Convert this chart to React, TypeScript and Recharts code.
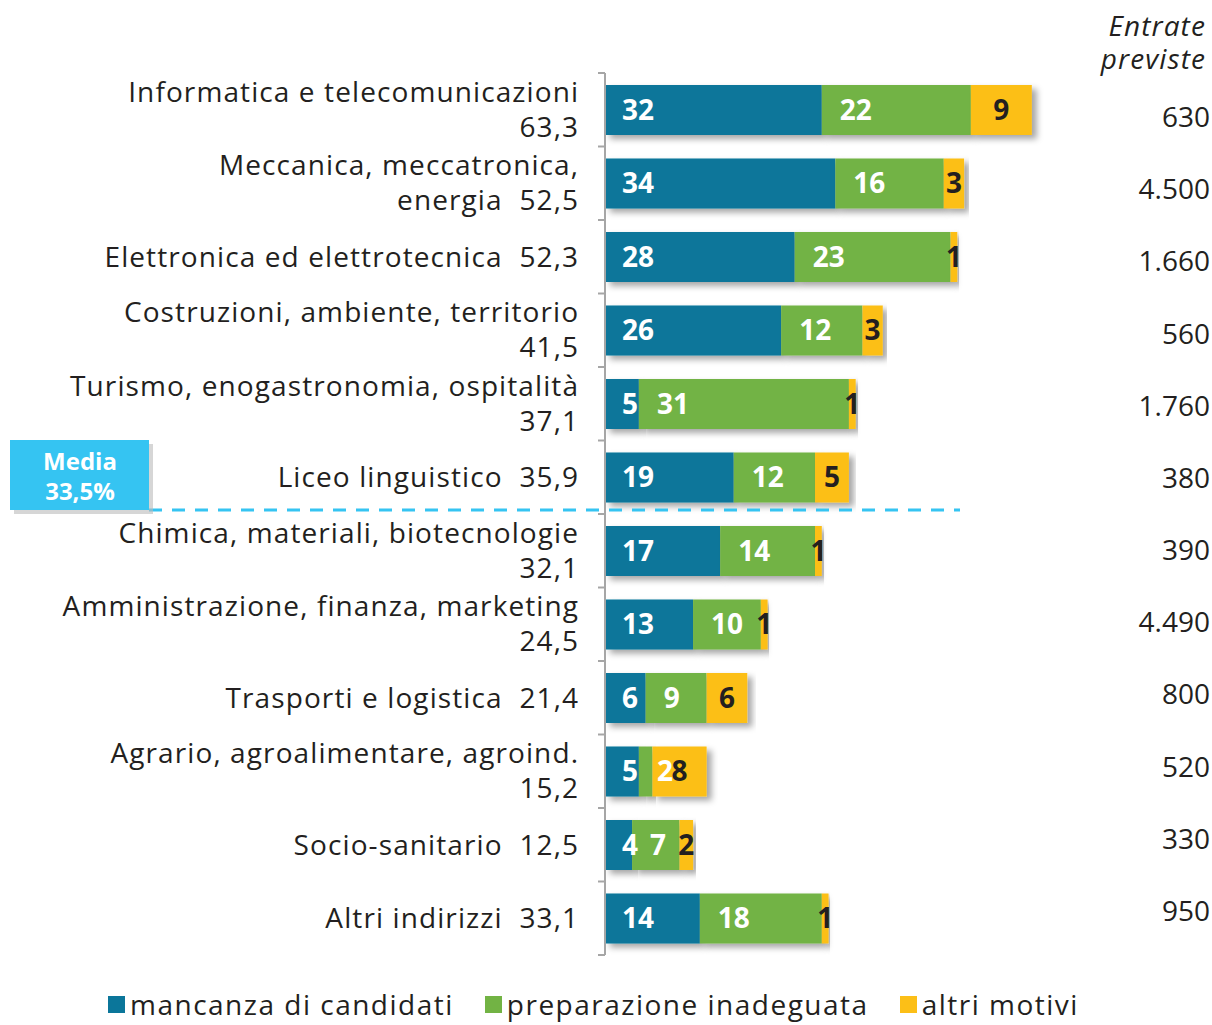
import React from 'react';
import { BarChart, Bar, XAxis, YAxis, LabelList, ReferenceLine } from 'recharts';

const categories = [
  'Informatica e telecomunicazioni',
  'Meccanica, meccatronica, energia',
  'Elettronica ed elettrotecnica',
  'Costruzioni, ambiente, territorio',
  'Turismo, enogastronomia, ospitalità',
  'Liceo linguistico',
  'Chimica, materiali, biotecnologie',
  'Amministrazione, finanza, marketing',
  'Trasporti e logistica',
  'Agrario, agroalimentare, agroind.',
  'Socio-sanitario',
  'Altri indirizzi',
];

// tick labels as printed (category + total %)
const tickLabels: string[][] = [
  ['Informatica e telecomunicazioni', '63,3'],
  ['Meccanica, meccatronica,', 'energia  52,5'],
  ['Elettronica ed elettrotecnica  52,3'],
  ['Costruzioni, ambiente, territorio', '41,5'],
  ['Turismo, enogastronomia, ospitalità', '37,1'],
  ['Liceo linguistico  35,9'],
  ['Chimica, materiali, biotecnologie', '32,1'],
  ['Amministrazione, finanza, marketing', '24,5'],
  ['Trasporti e logistica  21,4'],
  ['Agrario, agroalimentare, agroind.', '15,2'],
  ['Socio-sanitario  12,5'],
  ['Altri indirizzi  33,1'],
];

const mancanza = [32, 34, 28, 26, 5, 19, 17, 13, 6, 5, 4, 14];
const preparazione = [22, 16, 23, 12, 31, 12, 14, 10, 9, 2, 7, 18];
const altri = [9, 3, 1, 3, 1, 5, 1, 1, 6, 8, 2, 1];
const entrate = ['630', '4.500', '1.660', '560', '1.760', '380', '390', '4.490', '800', '520', '330', '950'];

const seriesNames = ['mancanza di candidati', 'preparazione inadeguata', 'altri motivi'];
const seriesColors = ['#0b769a', '#72b344', '#fcbf17'];

const mediaLabel = ['Media', '33,5%'];

const FONT = '"Open Sans", sans-serif';
const TEXT = '#231f20';
const MEDIA_BLUE = '#35c4f2';
const SPACING = 1.1;

const data = categories.map((name, i) => ({
  name,
  mancanza: mancanza[i],
  preparazione: preparazione[i],
  altri: altri[i],
  entrate: entrate[i],
}));

const TOP = 73;
const BOTTOM = 70;
const HEIGHT = 1025;
const BAND = (HEIGHT - TOP - BOTTOM) / categories.length;

const LeftTick = (props: any) => {
  const { x, y, index } = props;
  const lines = tickLabels[index] || [props.payload.value];
  const half = BAND / 2;
  const tx = x + SPACING;
  return (
    <g>
      {lines.length === 1 ? (
        <text x={tx} y={y} dy={10} textAnchor="end" fontSize={28} fontFamily={FONT} fill={TEXT} letterSpacing={SPACING} style={{ whiteSpace: 'pre' }}>
          {lines[0]}
        </text>
      ) : (
        lines.map((l, k) => (
          <text key={k} x={tx} y={y + (k === 0 ? -18 : 17)} dy={10} textAnchor="end" fontSize={28} fontFamily={FONT} fill={TEXT} letterSpacing={SPACING} style={{ whiteSpace: 'pre' }}>
            {l}
          </text>
        ))
      )}
      {index === 0 && <line x1={x + 20} x2={x + 27} y1={y - half} y2={y - half} stroke="#a6a6a6" strokeWidth={2} />}
      <line x1={x + 20} x2={x + 27} y1={y + half} y2={y + half} stroke="#a6a6a6" strokeWidth={2} />
    </g>
  );
};

const RightTick = (props: any) => {
  const { x, y, index } = props;
  return (
    <text x={x} y={y} dy={10} textAnchor="end" fontSize={28} fontFamily={FONT} fill={TEXT}>
      {entrate[index]}
    </text>
  );
};

const MediaLine = (props: any) => {
  const { y1 } = props;
  const y = y1 - BAND / 2 - 4;
  return (
    <g>
      <line x1={149} x2={960} y1={y} y2={y} stroke={MEDIA_BLUE} strokeWidth={3} strokeDasharray="13 10" />
      <rect x={14} y={y - 66} width={139} height={70} fill="#bbb" opacity={0.6} />
      <rect x={10} y={y - 70} width={139} height={70} fill={MEDIA_BLUE} />
      <text x={80} y={y - 40} textAnchor="middle" fontSize={24} fontWeight="bold" fontFamily={FONT} fill="#fff">
        {mediaLabel[0]}
      </text>
      <text x={80} y={y - 10} textAnchor="middle" fontSize={24} fontWeight="bold" fontFamily={FONT} fill="#fff">
        {mediaLabel[1]}
      </text>
    </g>
  );
};

const barLabel = { fontSize: 28, fontWeight: 'bold', fontFamily: FONT } as const;

export default function App() {
  return (
    <div style={{ position: 'absolute', left: 0, top: 0, width: 1212, height: 1025, background: '#fff', overflow: 'hidden' }}>
      <div
        style={{
          position: 'absolute',
          right: 6,
          top: 9,
          textAlign: 'right',
          fontStyle: 'italic',
          fontFamily: FONT,
          fontSize: 28,
          letterSpacing: SPACING,
          lineHeight: '33px',
          color: TEXT,
        }}
      >
        <div>Entrate</div>
        <div>previste</div>
      </div>
      <BarChart
        width={1212}
        height={HEIGHT}
        data={data}
        layout="vertical"
        margin={{ top: TOP, right: 0, bottom: BOTTOM, left: 0 }}
        barCategoryGap={0}
      >
        <defs>
          <filter id="shadow" x="-10%" y="-10%" width="130%" height="150%">
            <feDropShadow dx={5} dy={4} stdDeviation={3} floodColor="#000" floodOpacity={0.35} />
          </filter>
        </defs>
        <XAxis type="number" domain={[0, 80]} hide />
        <YAxis
          type="category"
          dataKey="name"
          width={605}
          tickLine={false}
          tickSize={7}
          tickMargin={20}
          axisLine={{ stroke: '#a6a6a6', strokeWidth: 2 }}
          tick={<LeftTick />}
          interval={0}
        />
        <YAxis
          yAxisId="right"
          orientation="right"
          type="category"
          dataKey="name"
          width={65}
          tickLine={false}
          axisLine={false}
          tickSize={0}
          tickMargin={63}
          padding={{ top: 8, bottom: 8 }}
          tick={<RightTick />}
          interval={0}
        />
        <Bar dataKey="mancanza" name={seriesNames[0]} stackId="a" fill={seriesColors[0]} barSize={50} isAnimationActive={false} filter="url(#shadow)">
          <LabelList dataKey="mancanza" position="insideLeft" offset={17} fill="#fff" style={barLabel} />
        </Bar>
        <Bar dataKey="preparazione" name={seriesNames[1]} stackId="a" fill={seriesColors[1]} barSize={50} isAnimationActive={false} filter="url(#shadow)">
          <LabelList dataKey="preparazione" position="insideLeft" offset={18} fill="#fff" style={barLabel} />
        </Bar>
        <Bar dataKey="altri" name={seriesNames[2]} stackId="a" fill={seriesColors[2]} barSize={50} isAnimationActive={false} filter="url(#shadow)">
          <LabelList dataKey="altri" position="center" fill={TEXT} style={barLabel} />
        </Bar>
        <ReferenceLine y={categories[6]} ifOverflow="visible" shape={<MediaLine />} />
      </BarChart>
      <div
        style={{
          position: 'absolute',
          left: 108,
          top: 988,
          display: 'flex',
          fontFamily: FONT,
          fontSize: 28,
          lineHeight: '32px',
          letterSpacing: 1.5,
          color: TEXT,
          whiteSpace: 'nowrap',
        }}
      >
        {seriesNames.map((n, i) => (
          <div key={n} style={{ display: 'flex', alignItems: 'center', marginRight: 31 }}>
            <span style={{ display: 'inline-block', width: 17, height: 17, background: seriesColors[i], marginRight: 5 }} />
            <span>{n}</span>
          </div>
        ))}
      </div>
    </div>
  );
}
